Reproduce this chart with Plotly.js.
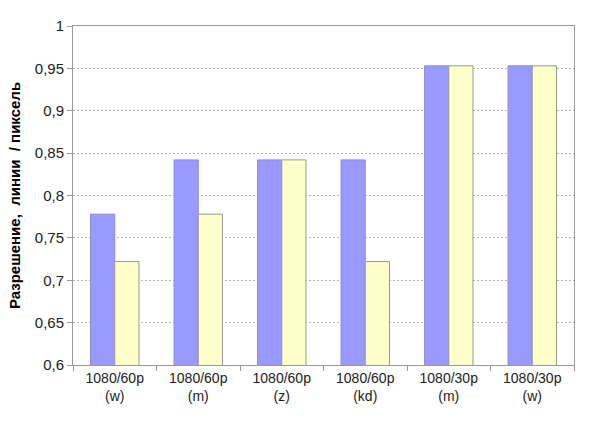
<!DOCTYPE html>
<html><head><meta charset="utf-8">
<script src="https://cdn.plot.ly/plotly-3.0.1.min.js"></script>
<style>body{margin:0;background:#fff}#chart{width:600px;height:433px}</style>
</head><body><div id="chart"></div>
<script>
const categories = ["1080/60p<br>(w)","1080/60p<br>(m)","1080/60p<br>(z)","1080/60p<br>(kd)","1080/30p<br>(m)","1080/30p<br>(w)"];
const seriesA = [0.778, 0.842, 0.842, 0.842, 0.953, 0.953];
const seriesB = [0.722, 0.778, 0.842, 0.722, 0.953, 0.953];
const yTickVals = [0.6,0.65,0.7,0.75,0.8,0.85,0.9,0.95,1];
const yTickText = ["0,6","0,65","0,7","0,75","0,8","0,85","0,9","0,95","1"];

const data = [
  {type:"bar", x:categories, y:seriesA, marker:{color:"#9999FF", line:{color:"#8c8cd9", width:1}}, hoverinfo:"none"},
  {type:"bar", x:categories, y:seriesB, marker:{color:"#FFFFCC", line:{color:"#999988", width:1}}, hoverinfo:"none"}
];
const layout = {
  width:600, height:433,
  margin:{l:73, r:26, t:26, b:68},
  paper_bgcolor:"#fff", plot_bgcolor:"#fff",
  showlegend:false,
  barmode:"group", bargap:0.42, bargroupgap:0,
  font:{family:"Liberation Sans, Arial, sans-serif", color:"#222"},
  xaxis:{
    type:"category", tickson:"boundaries", ticks:"outside", ticklen:5, tickcolor:"#999",
    showline:true, linecolor:"#999", mirror:true, showgrid:false,
    tickfont:{size:14, color:"#222"}
  },
  yaxis:{
    range:[0.6,1], tickvals:yTickVals, ticktext:yTickText,
    ticks:"outside", ticklen:5, tickcolor:"#999",
    showline:true, linecolor:"#999", mirror:true,
    showgrid:true, gridcolor:"#b4b4b4", griddash:"2px,2px", gridwidth:1,
    zeroline:false, tickfont:{size:15, color:"#222"},
    title:{text:"Разрешение,  линии  / пиксель", font:{size:15, color:"#000", weight:"bold"}, standoff:10}
  }
};
Plotly.newPlot("chart", data, layout, {staticPlot:true});
</script></body></html>
